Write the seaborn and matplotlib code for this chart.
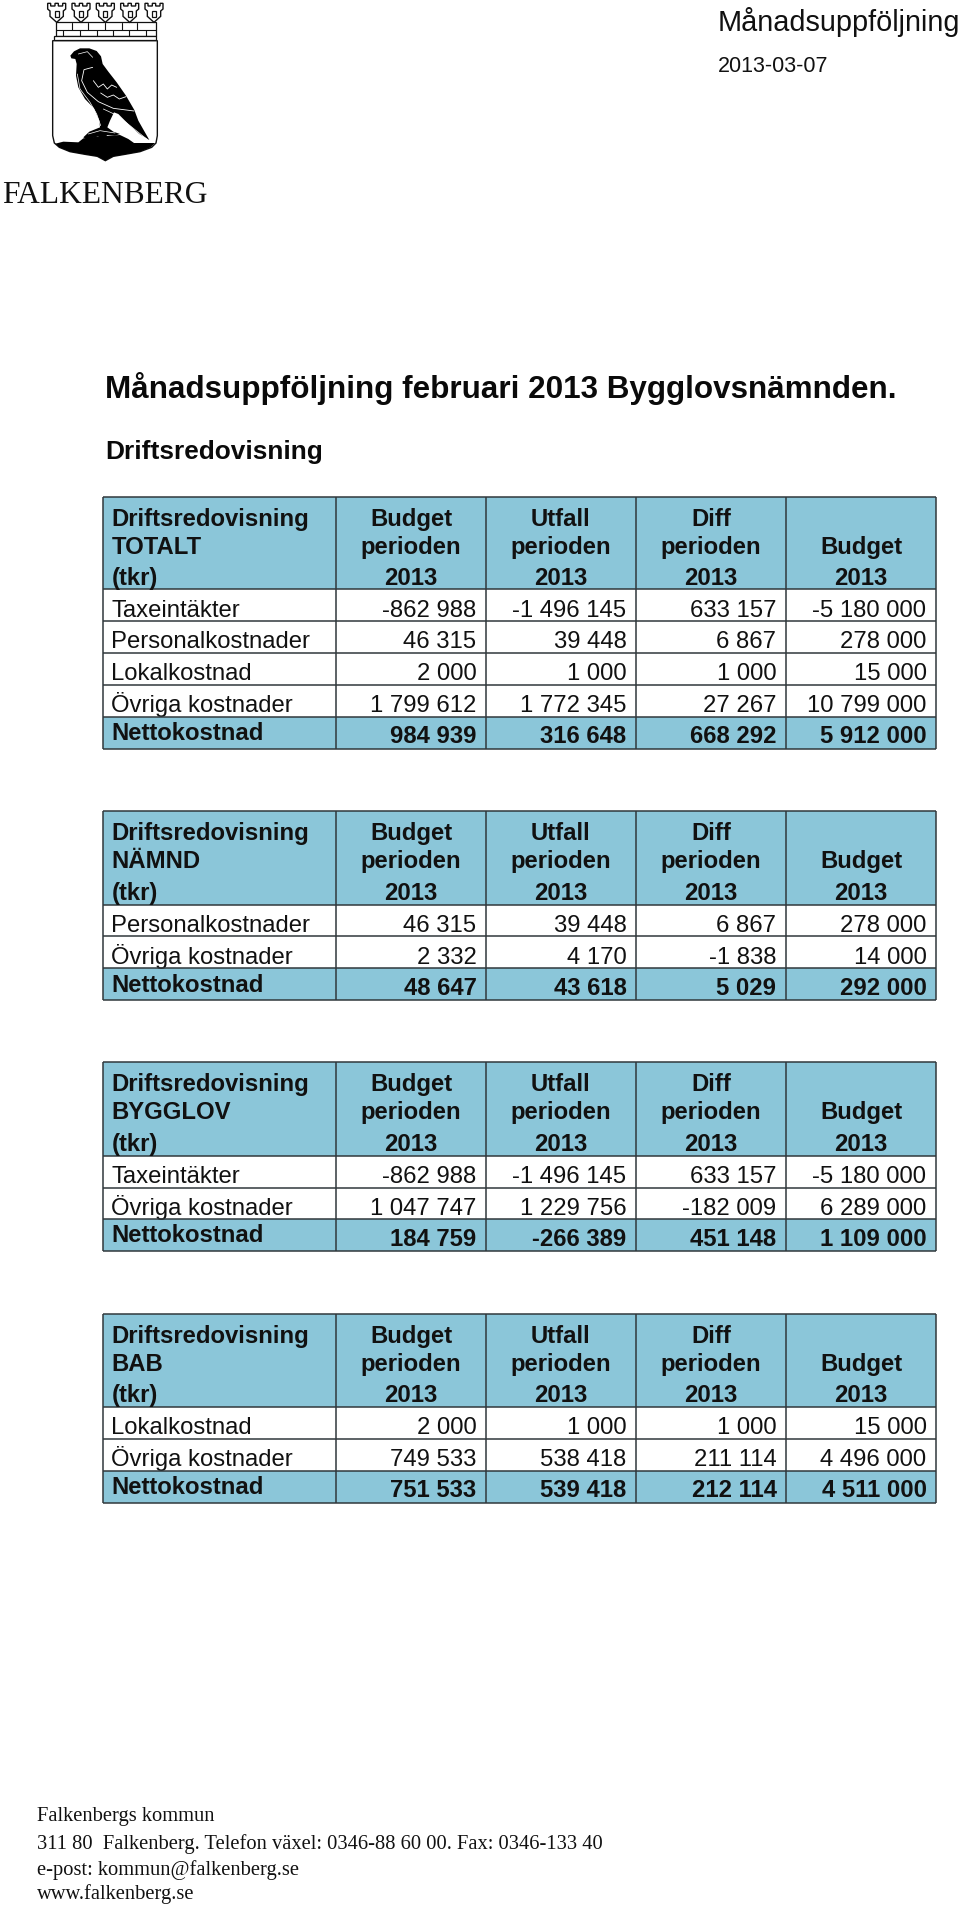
import matplotlib
matplotlib.use('Agg')
import matplotlib.pyplot as plt
from matplotlib.colors import ListedColormap
from matplotlib.patches import Polygon, Rectangle
import numpy as np
import seaborn as sns

total_labels = ['Taxeintäkter', 'Personalkostnader', 'Lokalkostnad', 'Övriga kostnader', 'Nettokostnad']
total_values = [[-862988, -1496145, 633157, -5180000],
                [46315, 39448, 6867, 278000],
                [2000, 1000, 1000, 15000],
                [1799612, 1772345, 27267, 10799000],
                [984939, 316648, 668292, 5912000]]

namnd_labels = ['Personalkostnader', 'Övriga kostnader', 'Nettokostnad']
namnd_values = [[46315, 39448, 6867, 278000],
                [2332, 4170, -1838, 14000],
                [48647, 43618, 5029, 292000]]

bygglov_labels = ['Taxeintäkter', 'Övriga kostnader', 'Nettokostnad']
bygglov_values = [[-862988, -1496145, 633157, -5180000],
                  [1047747, 1229756, -182009, 6289000],
                  [184759, -266389, 451148, 1109000]]

bab_labels = ['Lokalkostnad', 'Övriga kostnader', 'Nettokostnad']
bab_values = [[2000, 1000, 1000, 15000],
              [749533, 538418, 211114, 4496000],
              [751533, 539418, 212114, 4511000]]

column_heads = [['Budget', 'perioden', '2013'],
                ['Utfall', 'perioden', '2013'],
                ['Diff', 'perioden', '2013'],
                ['', 'Budget', '2013']]
footer_lines = ['Falkenbergs kommun',
                '311 80  Falkenberg. Telefon växel: 0346-88 60 00. Fax: 0346-133 40',
                'e-post: kommun@falkenberg.se',
                'www.falkenberg.se']

W, H = 960, 1906
BLUE = '#8BC6D9'
LINE = '#30383c'
SANS = 'Liberation Sans'
SERIF = 'Liberation Serif'
X_EDGES = [103, 336, 486, 636, 786, 936]
CMAP = ListedColormap(['white', BLUE])

sns.set_theme(style='white')
plt.rcParams['font.family'] = [SANS, 'DejaVu Sans']

fig = plt.figure(figsize=(W / 100, H / 100), dpi=100, facecolor='white')


def px_axes(x0, y0, x1, y1, zorder=1):
    return fig.add_axes([x0 / W, 1 - y1 / H, (x1 - x0) / W, (y1 - y0) / H], zorder=zorder)


def fmt(v):
    return f'{v:,}'.replace(',', ' ')


overlay = px_axes(0, 0, W, H, zorder=5)
overlay.set_xlim(0, W)
overlay.set_ylim(H, 0)
overlay.axis('off')
overlay.patch.set_alpha(0)


def fill_heatmap(box, flags, annot=None):
    ax = px_axes(*box)
    sns.heatmap(flags, ax=ax, cmap=CMAP, vmin=0, vmax=1, cbar=False, annot=annot, fmt='',
                xticklabels=False, yticklabels=False,
                annot_kws={'fontsize': 17.2, 'color': '#111111', 'family': SANS})
    return ax


def draw_table(top, head_bottom, bottom, title, labels, values):
    nrows = len(labels)
    row_h = (bottom - head_bottom) / nrows
    flags = np.zeros((nrows, 4))
    flags[-1] = 1

    # header band
    fill_heatmap((X_EDGES[0], top, X_EDGES[1], head_bottom), np.ones((1, 1)))
    fill_heatmap((X_EDGES[1], top, X_EDGES[5], head_bottom), np.ones((1, 4)))

    # row labels, left aligned in their cell
    label_annot = np.array(labels).reshape(-1, 1)
    ax = fill_heatmap((X_EDGES[0], head_bottom, X_EDGES[1], bottom), flags[:, :1], label_annot)
    for i, t in enumerate(ax.texts):
        last = i == nrows - 1
        t.set_ha('left')
        t.set_va('baseline')
        t.set_x(8 / (X_EDGES[1] - X_EDGES[0]))
        t.set_y(i + 1 - (9.5 if last else 5.3) / row_h)
        t.set_fontweight('bold' if last else 'normal')

    # numbers, right aligned
    num_annot = np.array([[fmt(v) for v in row] for row in values])
    ax = fill_heatmap((X_EDGES[1], head_bottom, X_EDGES[5], bottom), flags, num_annot)
    for k, t in enumerate(ax.texts):
        r, c = divmod(k, 4)
        t.set_ha('right')
        t.set_va('baseline')
        t.set_x(c + 1 - 9.5 / 150)
        t.set_y(r + 1 - (6.3 if r == nrows - 1 else 5.3) / row_h)
        t.set_fontweight('bold' if r == nrows - 1 else 'normal')

    # header text
    offsets = [28.2, 56.2, 87.6]
    for off, line in zip(offsets, ['Driftsredovisning', title, '(tkr)']):
        overlay.text(X_EDGES[0] + 8.5, top + off, line, fontsize=17.2, fontweight='bold',
                     va='baseline', ha='left', color='#111111')
    for c, head in enumerate(column_heads):
        xc = (X_EDGES[c + 1] + X_EDGES[c + 2]) / 2
        for off, line in zip(offsets, head):
            overlay.text(xc, top + off, line, fontsize=17.2, fontweight='bold',
                         va='baseline', ha='center', color='#111111')

    # rules
    ys = [top, head_bottom] + [head_bottom + row_h * (i + 1) for i in range(nrows)]
    overlay.hlines(ys, X_EDGES[0], X_EDGES[-1], color=LINE, lw=1.1)
    overlay.vlines(X_EDGES, top, bottom, color=LINE, lw=1.1)


draw_table(497.5, 590, 749.5, 'TOTALT', total_labels, total_values)
draw_table(812, 905.5, 1001, 'NÄMND', namnd_labels, namnd_values)
draw_table(1063, 1157, 1252, 'BYGGLOV', bygglov_labels, bygglov_values)
draw_table(1314.5, 1407.5, 1503.5, 'BAB', bab_labels, bab_values)

# page texts
overlay.text(718, 22, 'Månadsuppföljning', fontsize=20.8, va='center', color='#111111')
overlay.text(718, 66, '2013-03-07', fontsize=15.5, va='center', color='#111111')
overlay.text(105, 398, 'Månadsuppföljning februari 2013 Bygglovsnämnden.', fontsize=22.55,
             fontweight='bold', va='baseline', color='#0a0a0a')
overlay.text(105, 459, 'Driftsredovisning', fontsize=18.9, fontweight='bold', va='baseline',
             color='#0a0a0a')
for y, line in zip([1821, 1849, 1875, 1899], footer_lines):
    overlay.text(37, y, line, family=SERIF, fontsize=14.8, va='baseline', color='#111111')
overlay.text(2, 203, 'FALKENBERG', family=SERIF, fontsize=22.7, va='baseline', color='#111111')


# municipal arms, traced in 3x crop coordinates
def logo_poly(points, fc='black', ec='none', lw=0.0, z=2):
    pts = np.array(points, dtype=float) / 3
    overlay.add_patch(Polygon(pts, closed=True, facecolor=fc, edgecolor=ec, linewidth=lw, zorder=z))


def logo_line(points, color='white', lw=0.6, z=4):
    pts = np.array(points, dtype=float) / 3
    overlay.plot(pts[:, 0], pts[:, 1], color=color, lw=lw, zorder=z, solid_capstyle='round')


# shield and mound
logo_poly([(158, 125), (472, 125), (472, 410), (468, 432), (455, 445), (420, 458), (375, 466),
           (340, 472), (316, 485), (292, 472), (255, 466), (210, 458), (178, 445), (163, 432),
           (158, 410)], fc='white', ec='#111111', lw=1.0)
logo_poly([(166, 434), (190, 428), (235, 430), (250, 418), (300, 412), (360, 408), (385, 420),
           (402, 432), (465, 432), (452, 445), (420, 458), (375, 466), (340, 472), (316, 485),
           (292, 472), (255, 466), (210, 458), (178, 445)])

# wall
logo_poly([(167, 70), (467, 70), (467, 112), (167, 112)], fc='white', ec='#111111', lw=0.9)
overlay.add_patch(Rectangle((162 / 3, 112 / 3), 306 / 3, 12 / 3, fc='white', ec='#111111', lw=0.9, zorder=2))
logo_line([(167, 92), (467, 92)], color='#111111', lw=0.8)
for bx in [215, 265, 315, 365, 412]:
    logo_line([(bx, 72), (bx, 92)], color='#111111', lw=0.8)
for bx in [190, 240, 290, 340, 388, 437]:
    logo_line([(bx, 92), (bx, 112)], color='#111111', lw=0.8)

# turrets
for cx in [170, 243, 316, 389, 462]:
    logo_poly([(cx - 27, 13), (cx - 18, 13), (cx - 18, 21), (cx - 5, 21), (cx - 5, 13), (cx + 5, 13),
               (cx + 5, 21), (cx + 18, 21), (cx + 18, 13), (cx + 27, 13), (cx + 27, 30), (cx + 20, 36),
               (cx + 20, 52), (cx, 70), (cx - 20, 52), (cx - 20, 36), (cx - 27, 30)],
              fc='white', ec='#111111', lw=1.0, z=3)
    logo_poly([(cx - 6, 36), (cx + 6, 36), (cx + 6, 54), (cx - 6, 54)], fc='white', ec='#111111', lw=0.9, z=3)

# falcon
logo_poly([(211, 170), (222, 157), (240, 148), (268, 148), (290, 156), (303, 172), (308, 195),
           (325, 218), (350, 250), (378, 290), (403, 333), (415, 365), (432, 395), (448, 423),
           (418, 405), (385, 375), (355, 345), (342, 340), (330, 365), (322, 385), (340, 398),
           (360, 405), (345, 410), (322, 408), (302, 428), (295, 412), (262, 422), (250, 415),
           (268, 398), (300, 385), (298, 365), (282, 328), (255, 300), (235, 265), (228, 230),
           (230, 195), (226, 180), (214, 178)], z=3)
logo_line([(278, 205), (252, 212), (245, 245), (262, 280), (295, 308), (340, 328), (402, 336)])
logo_line([(232, 225), (240, 270), (270, 310), (290, 345), (302, 380)], lw=0.5)
logo_line([(280, 245), (295, 265), (310, 255), (322, 270), (335, 258), (350, 265)])
logo_line([(302, 282), (322, 295), (340, 288), (358, 300), (378, 293)])
logo_line([(310, 330), (342, 345), (380, 372), (440, 420)], lw=0.5)
logo_line([(235, 165), (262, 158), (278, 175)], lw=0.5)
logo_line([(265, 405), (300, 395), (345, 402)], lw=0.5)

fig.savefig('out.png', dpi=100, facecolor='white')
